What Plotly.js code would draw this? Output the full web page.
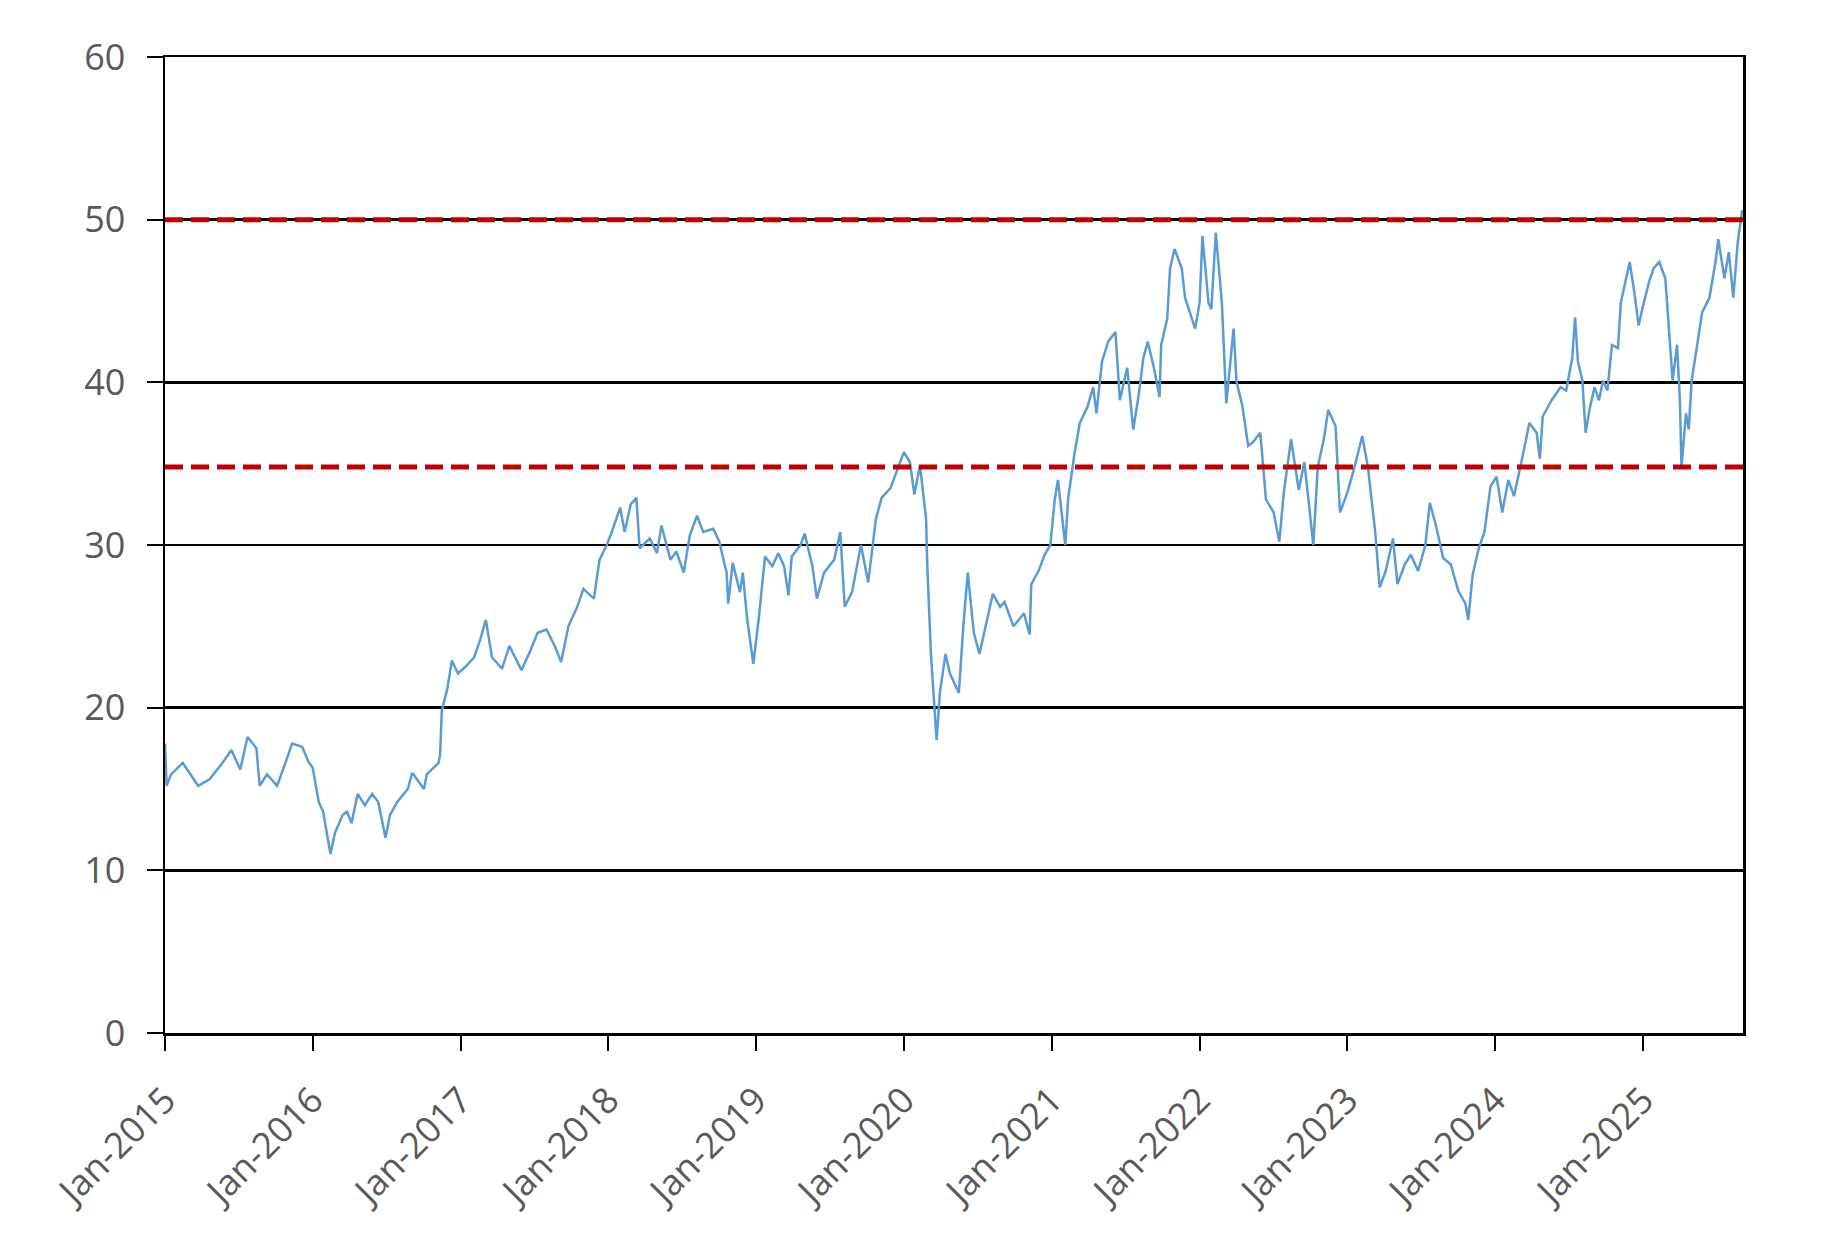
<!DOCTYPE html>
<html>
<head>
<meta charset="utf-8">
<script src="https://cdn.plot.ly/plotly-3.0.1.min.js"></script>
<style>
  html, body { margin: 0; padding: 0; background: #fff; }
  #chart { width: 1830px; height: 1238px; }
</style>
</head>
<body>
<div id="chart"></div>
<script>
// price series
var dates = [
  '2015-01-01','2015-01-05','2015-01-16','2015-02-14','2015-03-24','2015-04-21','2015-05-20','2015-06-14','2015-07-06','2015-07-24','2015-08-15','2015-08-23','2015-09-10','2015-10-05','2015-10-27','2015-11-11','2015-12-06','2015-12-21',
  '2016-01-01','2016-01-16','2016-01-27','2016-02-14','2016-02-25','2016-03-15','2016-03-26','2016-04-06','2016-04-21','2016-05-09','2016-05-27','2016-06-11','2016-06-29','2016-07-10','2016-07-28','2016-08-23','2016-09-03','2016-10-02','2016-10-09','2016-11-07','2016-11-11','2016-11-15','2016-11-29','2016-12-10','2016-12-25',
  '2017-01-12','2017-02-03','2017-02-17','2017-03-04','2017-03-19','2017-04-13','2017-05-01','2017-05-31','2017-06-22','2017-07-10','2017-08-01','2017-08-23','2017-09-06','2017-09-24','2017-10-16','2017-10-31','2017-11-26','2017-12-10','2017-12-28',
  '2018-01-12','2018-01-30','2018-02-10','2018-02-25','2018-03-11','2018-03-19','2018-04-13','2018-05-01','2018-05-12','2018-06-03','2018-06-18','2018-07-06','2018-07-21','2018-08-08','2018-08-23','2018-09-17','2018-10-02','2018-10-20','2018-10-24','2018-11-04','2018-11-22','2018-11-29','2018-12-10','2018-12-25',
  '2019-01-08','2019-01-23','2019-02-10','2019-02-25','2019-03-11','2019-03-22','2019-03-30','2019-04-21','2019-05-01','2019-05-20','2019-05-31','2019-06-18','2019-07-13','2019-07-28','2019-08-08','2019-08-26','2019-09-17','2019-10-05','2019-10-24','2019-11-07','2019-11-29','2019-12-14',
  '2020-01-01','2020-01-16','2020-01-27','2020-02-10','2020-02-25','2020-02-28','2020-03-08','2020-03-22','2020-03-30','2020-04-13','2020-04-24','2020-05-16','2020-05-27','2020-06-07','2020-06-22','2020-07-06','2020-07-24','2020-08-08','2020-08-26','2020-09-06','2020-09-28','2020-10-24','2020-11-07','2020-11-11','2020-11-29','2020-12-14','2020-12-28',
  '2021-01-08','2021-01-16','2021-02-03','2021-02-10','2021-02-25','2021-03-11','2021-03-30','2021-04-13','2021-04-21','2021-05-05','2021-05-20','2021-06-07','2021-06-18','2021-07-06','2021-07-21','2021-08-04','2021-08-15','2021-08-26','2021-09-10','2021-09-24','2021-09-28','2021-10-13','2021-10-20','2021-10-31','2021-11-18','2021-11-26','2021-12-14','2021-12-21',
  '2022-01-01','2022-01-08','2022-01-23','2022-01-30','2022-02-10','2022-02-25','2022-03-08','2022-03-26','2022-04-02','2022-04-17','2022-05-01','2022-05-12','2022-05-31','2022-06-14','2022-07-03','2022-07-17','2022-07-28','2022-08-15','2022-09-03','2022-09-17','2022-10-09','2022-10-20','2022-11-04','2022-11-15','2022-12-03','2022-12-14',
  '2023-01-01','2023-01-19','2023-02-07','2023-02-21','2023-03-11','2023-03-22','2023-04-06','2023-04-24','2023-05-05','2023-05-23','2023-06-07','2023-06-25','2023-07-13','2023-07-24','2023-08-08','2023-08-26','2023-09-14','2023-10-02','2023-10-20','2023-10-27','2023-11-07','2023-11-22','2023-12-06','2023-12-21',
  '2024-01-05','2024-01-19','2024-02-03','2024-02-17','2024-03-08','2024-03-26','2024-04-13','2024-04-21','2024-04-28','2024-05-20','2024-06-11','2024-06-25','2024-07-10','2024-07-17','2024-07-24','2024-08-04','2024-08-12','2024-08-23','2024-09-03','2024-09-14','2024-09-24','2024-10-05','2024-10-16','2024-10-31','2024-11-07','2024-11-22','2024-11-29','2024-12-10','2024-12-21',
  '2025-01-01','2025-01-16','2025-01-27','2025-02-10','2025-02-25','2025-03-04','2025-03-15','2025-03-26','2025-04-02','2025-04-06','2025-04-17','2025-04-24','2025-05-01','2025-05-16','2025-05-27','2025-06-14','2025-06-29','2025-07-06','2025-07-21','2025-08-01','2025-08-12','2025-08-23','2025-09-03'
];
var prices = [
  17.8,15.2,15.9,16.6,15.2,15.6,16.5,17.4,16.2,18.2,17.5,15.2,15.9,15.2,16.7,17.8,17.6,16.7,
  16.3,14.2,13.6,11.0,12.3,13.4,13.6,12.9,14.7,14.0,14.7,14.2,12.0,13.4,14.2,15.0,16.0,15.0,15.9,16.6,17.1,19.8,21.2,22.9,22.1,
  22.5,23.1,24.1,25.4,23.1,22.4,23.8,22.3,23.5,24.6,24.8,23.7,22.8,25.0,26.2,27.3,26.7,29.1,30.0,
  31.0,32.3,30.8,32.5,32.9,29.8,30.4,29.5,31.2,29.1,29.6,28.3,30.6,31.8,30.8,31.0,30.2,28.3,26.4,28.9,27.1,28.3,25.4,22.7,
  25.6,29.3,28.7,29.5,28.7,26.9,29.3,30.0,30.7,28.7,26.7,28.3,29.1,30.8,26.2,27.1,30.0,27.7,31.6,32.9,33.5,34.5,
  35.7,35.1,33.1,34.9,31.6,28.7,23.3,18.0,20.9,23.3,22.1,20.9,25.0,28.3,24.6,23.3,25.4,27.0,26.2,26.5,25.0,25.8,24.5,27.6,28.4,29.4,30.0,
  32.8,34.0,30.0,32.8,35.5,37.5,38.5,39.7,38.1,41.3,42.5,43.1,38.9,40.9,37.1,39.3,41.5,42.5,40.9,39.1,42.3,43.9,47.0,48.2,47.0,45.2,43.9,43.3,
  44.9,49.0,44.9,44.5,49.2,44.9,38.7,43.3,40.1,38.5,36.1,36.3,36.9,32.8,32.0,30.2,33.2,36.5,33.4,35.1,30.0,34.8,36.5,38.3,37.3,32.0,
  33.2,34.8,36.7,34.8,30.8,27.4,28.4,30.4,27.6,28.8,29.4,28.4,30.0,32.6,31.2,29.2,28.8,27.2,26.4,25.4,28.2,29.8,30.8,33.6,
  34.2,32.0,34.0,33.0,35.3,37.5,36.9,35.3,37.9,38.9,39.7,39.5,41.5,44.0,41.3,40.1,36.9,38.5,39.7,38.9,40.1,39.5,42.3,42.1,44.9,46.6,47.4,45.6,43.5,
  44.7,46.2,47.0,47.4,46.4,44.1,40.1,42.3,38.9,34.8,38.1,37.1,40.1,42.5,44.3,45.2,47.4,48.8,46.4,48.0,45.2,48.6,50.6
];

// band levels (red dashed)
var upperLevel = 50;
var lowerLevel = 34.8;

var xStart = '2015-01-01';
var xEnd = '2025-09-05';

var tickDates = ['2015-01-01','2016-01-01','2017-01-01','2018-01-01','2019-01-01','2020-01-01','2021-01-01','2022-01-01','2023-01-01','2024-01-01','2025-01-01'];
var tickLabels = ['Jan-2015','Jan-2016','Jan-2017','Jan-2018','Jan-2019','Jan-2020','Jan-2021','Jan-2022','Jan-2023','Jan-2024','Jan-2025'];

var labelFont = {family: 'Open Sans, sans-serif', size: 36, color: '#595959'};

var data = [
  {
    x: dates, y: prices,
    mode: 'lines',
    line: {color: '#5B9BD5', width: 2.5},
    hoverinfo: 'skip'
  },
  {
    x: [xStart, xEnd], y: [upperLevel, upperLevel],
    mode: 'lines',
    line: {color: '#C00000', width: 5, dash: '18px,8px'},
    hoverinfo: 'skip'
  },
  {
    x: [xStart, xEnd], y: [lowerLevel, lowerLevel],
    mode: 'lines',
    line: {color: '#C00000', width: 5, dash: '18px,8px'},
    hoverinfo: 'skip'
  }
];

var layout = {
  width: 1830,
  height: 1238,
  margin: {l: 165, r: 87, t: 57, b: 205},
  paper_bgcolor: '#fff',
  plot_bgcolor: '#fff',
  showlegend: false,
  xaxis: {
    type: 'date',
    range: [xStart, xEnd],
    tickmode: 'array',
    tickvals: tickDates,
    ticktext: tickLabels,
    tickangle: -45,
    tickfont: labelFont,
    ticks: 'outside',
    ticklen: 15,
    tickwidth: 2,
    tickcolor: '#000',
    ticklabelstandoff: 14,
    showgrid: false,
    zeroline: false,
    showline: true,
    linecolor: '#000',
    linewidth: 2.5,
    mirror: true
  },
  yaxis: {
    range: [0, 60],
    dtick: 10,
    tickfont: labelFont,
    ticks: 'outside',
    ticklen: 16,
    tickwidth: 2,
    tickcolor: '#000',
    ticklabelstandoff: 14,
    showgrid: true,
    gridcolor: '#000',
    gridwidth: 2.5,
    zeroline: false,
    showline: true,
    linecolor: '#000',
    linewidth: 2.5,
    mirror: true
  }
};

Plotly.newPlot(document.getElementById('chart'), data, layout, {displayModeBar: false, staticPlot: true});
</script>
</body>
</html>
